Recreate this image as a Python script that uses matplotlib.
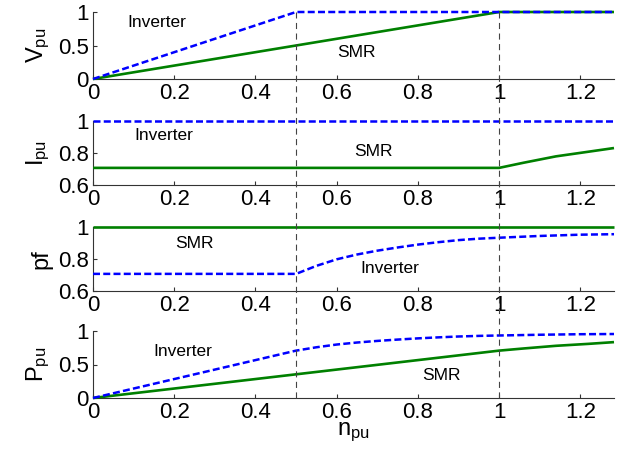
"""
Stacked V, I, pf and P (per unit) against speed for the inverter and SMR drives.
"""

import matplotlib

matplotlib.use("Agg")
import matplotlib.pyplot as plt
import matplotlib.transforms as mtransforms

# data
n_v_inv = [0, 0.5, 1.283]
v_inv = [0, 1, 1]
n_v_smr = [0, 1.0, 1.283]
v_smr = [0, 1, 1]

n_i_inv = [0, 1.283]
i_inv = [1, 1]
n_i_smr = [0, 1.0, 1.06, 1.14, 1.22, 1.283]
i_smr = [0.707, 0.707, 0.739, 0.779, 0.808, 0.831]

n_pf_smr = [0, 1.283]
pf_smr = [1, 1]
n_pf_inv = [0, 0.5, 0.55, 0.6, 0.65, 0.7, 0.75, 0.8, 0.85, 0.9, 0.95, 1.0, 1.1, 1.2, 1.283]
pf_inv = [0.707, 0.707, 0.757, 0.798, 0.828, 0.852, 0.872, 0.89, 0.905, 0.918, 0.927,
          0.933, 0.944, 0.952, 0.955]

n_p_inv = [0, 0.5, 0.55, 0.6, 0.65, 0.7, 0.75, 0.8, 0.85, 0.9, 0.95, 1.0, 1.1, 1.2, 1.283]
p_inv = [0, 0.707, 0.757, 0.798, 0.828, 0.852, 0.872, 0.89, 0.905, 0.918, 0.927,
         0.933, 0.944, 0.952, 0.955]
n_p_smr = [0, 1.0, 1.06, 1.14, 1.22, 1.283]
p_smr = [0, 0.707, 0.739, 0.779, 0.808, 0.834]

x_ticks = [0, 0.2, 0.4, 0.6, 0.8, 1, 1.2]
x_tick_labels = ["0", "0.2", "0.4", "0.6", "0.8", "1", "1.2"]
breaks = [0.5, 1.0]

plt.rcParams["font.family"] = ["Liberation Sans", "DejaVu Sans"]
plt.rcParams["mathtext.fontset"] = "custom"
plt.rcParams["mathtext.rm"] = "Liberation Sans"
plt.rcParams["mathtext.it"] = "Liberation Sans"

BLUE = "#0000ff"
GREEN = "#008000"
AXCOL = "#333333"

fig = plt.figure(figsize=(6.18, 4.59), dpi=100)

# axes boxes in figure fraction: left, bottom, width, height
left, width = 93 / 618, 521 / 618
boxes = [
    (left, 1 - 79 / 459, width, 67 / 459),
    (left, 1 - 185 / 459, width, 64 / 459),
    (left, 1 - 291 / 459, width, 64 / 459),
    (left, 1 - 398 / 459, width, 67 / 459),
]
axes = [fig.add_axes(b) for b in boxes]

panels = [
    dict(inv=(n_v_inv, v_inv), smr=(n_v_smr, v_smr), ylim=(0, 1),
         yticks=[0, 0.5, 1], yticklabels=["0", "0.5", "1"], ylabel=r"V$_{\rm pu}$",
         inv_txt=(0.158, 0.85), smr_txt=(0.648, 0.39)),
    dict(inv=(n_i_inv, i_inv), smr=(n_i_smr, i_smr), ylim=(0.6, 1),
         yticks=[0.6, 0.8, 1], yticklabels=["0.6", "0.8", "1"], ylabel=r"I$_{\rm pu}$",
         inv_txt=(0.175, 0.912), smr_txt=(0.69, 0.808)),
    dict(inv=(n_pf_inv, pf_inv), smr=(n_pf_smr, pf_smr), ylim=(0.6, 1),
         yticks=[0.6, 0.8, 1], yticklabels=["0.6", "0.8", "1"], ylabel="pf",
         inv_txt=(0.73, 0.742), smr_txt=(0.249, 0.898)),
    dict(inv=(n_p_inv, p_inv), smr=(n_p_smr, p_smr), ylim=(0, 1),
         yticks=[0, 0.5, 1], yticklabels=["0", "0.5", "1"], ylabel=r"P$_{\rm pu}$",
         inv_txt=(0.221, 0.69), smr_txt=(0.857, 0.343)),
]

for ax, p in zip(axes, panels):
    ax.plot(*p["smr"], color=GREEN, lw=1.9, solid_capstyle="butt", clip_on=False, zorder=3)
    ax.plot(*p["inv"], color=BLUE, lw=1.8, linestyle=(0, (2.8, 1.3)), clip_on=False, zorder=4)
    ax.set_xlim(0, 1.283)
    ax.set_ylim(*p["ylim"])
    ax.set_xticks(x_ticks)
    ax.set_xticklabels(x_tick_labels)
    ax.set_yticks(p["yticks"])
    ax.set_yticklabels(p["yticklabels"])
    ax.tick_params(direction="in", length=3, width=0.8, labelsize=16, colors="black",
                   pad=3)
    ax.tick_params(color=AXCOL)
    for side in ("top", "right"):
        ax.spines[side].set_visible(False)
    for side in ("left", "bottom"):
        ax.spines[side].set_color(AXCOL)
        ax.spines[side].set_linewidth(0.8)
    ax.set_ylabel(p["ylabel"], fontsize=17, labelpad=4)
    ax.text(*p["inv_txt"], "Inverter", fontsize=12.5, ha="center", va="center")
    ax.text(*p["smr_txt"], "SMR", fontsize=12.5, ha="center", va="center")

axes[-1].set_xlabel(r"n$_{\rm pu}$", fontsize=17, labelpad=-2)

# dashed markers at the two operating breaks, running through all panels
trans = mtransforms.blended_transform_factory(axes[-1].transData, fig.transFigure)
y_top = boxes[0][1] + boxes[0][3]
y_bot = boxes[-1][1]
for xb in breaks:
    fig.add_artist(plt.Line2D([xb, xb], [y_bot, y_top], transform=trans, color="#444444",
                              lw=0.8, linestyle=(0, (5.5, 4)), zorder=1))

fig.savefig("out.png", dpi=100, facecolor="white")
